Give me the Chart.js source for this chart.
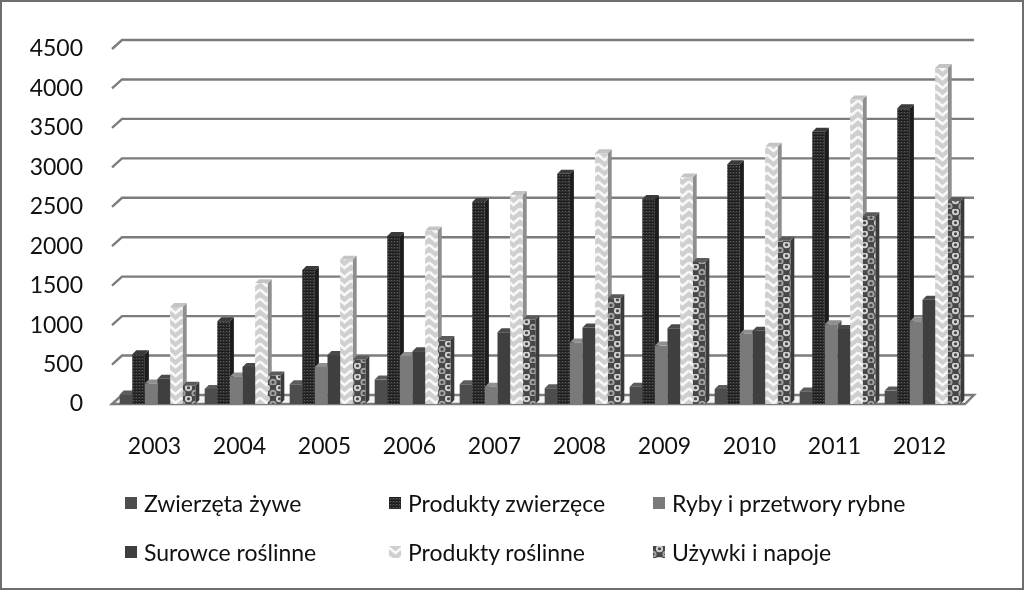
<!DOCTYPE html>
<html lang="pl">
<head>
    <meta charset="UTF-8">
    <title>Eksport</title>
    <script src="https://cdn.jsdelivr.net/npm/chart.js"></script>
    <style>
        html, body { margin: 0; padding: 0; background: #fff; }
        #wrap { position: relative; width: 1024px; height: 590px; overflow: hidden; }
        #frame { position: absolute; inset: 0; border: 2px solid #6e6e6e; box-sizing: border-box; pointer-events: none; }
        canvas#chart { position: absolute; left: 0; top: 0; }
        .item { position: absolute; font: 23px Lato, sans-serif; color: #111; white-space: nowrap; line-height: 28px; }
        .item canvas { position: absolute; left: -19px; top: 8px; }
    </style>
</head>
<body>
<div id="wrap">
    <canvas id="chart" width="1024" height="590"></canvas>
    <div id="legend"></div>
    <div id="frame"></div>
</div>
<script>
const years = ['2003', '2004', '2005', '2006', '2007', '2008', '2009', '2010', '2011', '2012'];
const seriesNames = ['Zwierzęta żywe', 'Produkty zwierzęce', 'Ryby i przetwory rybne', 'Surowce roślinne', 'Produkty roślinne', 'Używki i napoje'];

const zwierzeta = [120, 190, 250, 310, 250, 200, 220, 190, 160, 170];
const produktyZw = [630, 1050, 1700, 2130, 2560, 2920, 2600, 3040, 3450, 3750];
const ryby = [260, 350, 470, 610, 220, 780, 740, 890, 1010, 1050];
const surowce = [320, 470, 620, 670, 910, 970, 960, 930, 950, 1320];
const produktyRos = [1230, 1530, 1830, 2200, 2650, 3180, 2870, 3260, 3860, 4260];
const uzywki = [230, 360, 560, 810, 1070, 1340, 1800, 2070, 2380, 2570];

const gridColor = '#7c7c7c';
const depthX = 4, depthY = 4;   // bar depth
const wallX = 10, wallY = 9;    // back wall offset

function tile(w, h, paint) {
    const c = document.createElement('canvas');
    c.width = w; c.height = h;
    paint(c.getContext('2d'));
    return c.getContext('2d').createPattern(c, 'repeat');
}

const dotted = tile(3, 3, g => {
    g.fillStyle = '#2e2e2e'; g.fillRect(0, 0, 3, 3);
    g.fillStyle = '#585858'; g.fillRect(1, 1, 1, 1);
    g.fillStyle = '#1e1e1e'; g.fillRect(0, 0, 3, 1);
});
const zigzag = tile(13, 9, g => {
    g.fillStyle = '#cfcfcf'; g.fillRect(0, 0, 13, 9);
    g.strokeStyle = '#f8f8f8'; g.lineWidth = 2.6;
    g.beginPath();
    g.moveTo(0, 1.5); g.lineTo(6.5, 7); g.lineTo(13, 1.5);
    g.stroke();
});
const rings = tile(13, 11, g => {
    g.fillStyle = '#474747'; g.fillRect(0, 0, 13, 11);
    g.strokeStyle = '#cfcfcf'; g.lineWidth = 2;
    g.beginPath(); g.arc(6.5, 2.75, 2.6, 0, Math.PI * 2); g.stroke();
    g.strokeStyle = '#a0a0a0';
    g.beginPath(); g.arc(0, 8.25, 2.6, 0, Math.PI * 2); g.stroke();
    g.beginPath(); g.arc(13, 8.25, 2.6, 0, Math.PI * 2); g.stroke();
});

const fills = ['#4d4d4d', dotted, '#7a7a7a', '#3f3f3f', zigzag, rings];
const sides = ['#333', '#1d1d1d', '#555', '#2b2b2b', '#8e8e8e', '#3a3a3a'];
const tops = ['#5c5c5c', '#3a3a3a', '#8f8f8f', '#4a4a4a', '#c4c4c4', '#5a5a5a'];
const values = [zwierzeta, produktyZw, ryby, surowce, produktyRos, uzywki];

// back wall gridlines and floor, drawn from the y scale
const wallPlugin = {
    id: 'wall',
    beforeDatasetsDraw(chart) {
        const { ctx, scales: { x, y } } = chart;
        const left = x.left - 3, right = x.right;
        ctx.save();
        ctx.strokeStyle = gridColor;
        ctx.lineWidth = 2.4;
        y.ticks.forEach(t => {
            const py = y.getPixelForValue(t.value);
            if (t.value === 0) return;
            ctx.beginPath();
            ctx.moveTo(left, py);
            ctx.lineTo(left + wallX, py - wallY);
            ctx.lineTo(right + wallX - 1, py - wallY);
            ctx.stroke();
        });
        const p0 = y.getPixelForValue(0);
        ctx.fillStyle = '#f4f4f4';
        ctx.beginPath();
        ctx.moveTo(left, p0);
        ctx.lineTo(left + wallX, p0 - wallY);
        ctx.lineTo(right + wallX - 1, p0 - wallY);
        ctx.lineTo(right, p0);
        ctx.closePath();
        ctx.fill();
        ctx.stroke();
        // depth of the bars, faces are painted over it afterwards
        chart.data.datasets.forEach((ds, i) => {
            chart.getDatasetMeta(i).data.forEach(bar => {
                const l = bar.x - bar.width / 2, r = bar.x + bar.width / 2;
                ctx.fillStyle = sides[i];
                ctx.beginPath();
                ctx.moveTo(r, bar.y);
                ctx.lineTo(r + depthX, bar.y - depthY);
                ctx.lineTo(r + depthX, bar.base - depthY);
                ctx.lineTo(r, bar.base);
                ctx.closePath();
                ctx.fill();
                ctx.fillStyle = tops[i];
                ctx.beginPath();
                ctx.moveTo(l, bar.y);
                ctx.lineTo(l + depthX, bar.y - depthY);
                ctx.lineTo(r + depthX, bar.y - depthY);
                ctx.lineTo(r, bar.y);
                ctx.closePath();
                ctx.fill();
            });
        });
        ctx.restore();
    }
};

new Chart(document.getElementById('chart'), {
    type: 'bar',
    data: {
        labels: years,
        datasets: seriesNames.map((name, i) => ({
            label: name,
            data: values[i],
            backgroundColor: fills[i],
            borderWidth: 0,
            barPercentage: 1,
            categoryPercentage: 0.89
        }))
    },
    options: {
        responsive: false,
        animation: false,
        layout: { padding: { top: 49, right: 59, left: 0, bottom: 0 } },
        plugins: { legend: { display: false }, tooltip: { enabled: false } },
        scales: {
            x: {
                grid: { display: false },
                border: { display: false },
                afterFit(s) { s.height = 186; },
                ticks: { color: '#111', font: { family: 'Lato', size: 23 }, padding: 21, maxRotation: 0, labelOffset: -3 }
            },
            y: {
                min: 0,
                max: 4500,
                grid: { display: false },
                border: { display: false },
                afterFit(s) { s.width = 115; },
                ticks: {
                    stepSize: 500,
                    color: '#111',
                    font: { family: 'Lato', size: 23 },
                    padding: 24,
                    callback: v => String(v)
                }
            }
        }
    },
    plugins: [wallPlugin]
});

// legend in three fixed columns
const legendX = [144, 408, 672], legendY = [489, 538];
seriesNames.forEach((name, i) => {
    const row = Math.floor(i / 3), col = i % 3;
    const item = document.createElement('div');
    item.className = 'item';
    item.style.left = legendX[col] + 'px';
    item.style.top = legendY[row] + 'px';
    const sw = document.createElement('canvas');
    sw.width = 12; sw.height = 12;
    const g = sw.getContext('2d');
    g.fillStyle = fills[i];
    g.fillRect(0, 0, 12, 12);
    item.appendChild(sw);
    item.appendChild(document.createTextNode(name));
    document.getElementById('legend').appendChild(item);
});
</script>
</body>
</html>
